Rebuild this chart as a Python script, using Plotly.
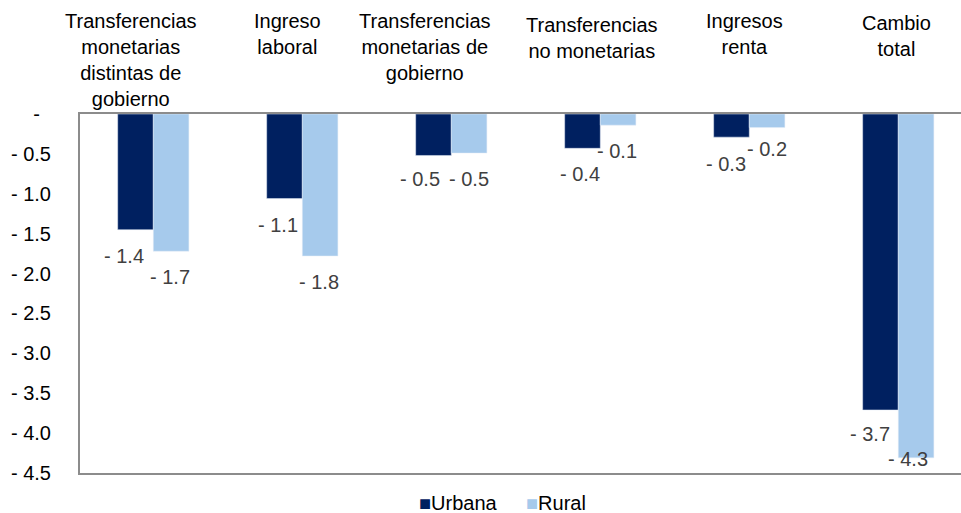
import plotly.graph_objects as go

categorias = [
    "Transferencias<br>monetarias<br>distintas de<br>gobierno",
    "Ingreso<br>laboral",
    "Transferencias<br>monetarias de<br>gobierno",
    "Transferencias<br>no monetarias",
    "Ingresos<br>renta",
    "Cambio<br>total",
]
urbana = [-1.45, -1.06, -0.52, -0.43, -0.29, -3.71]
rural = [-1.72, -1.78, -0.49, -0.14, -0.17, -4.31]

y_ticks = [0, -0.5, -1.0, -1.5, -2.0, -2.5, -3.0, -3.5, -4.0, -4.5]
y_ticktext = ["-\u00a0\u00a0"] + [f"- {abs(v):.1f}" for v in y_ticks[1:]]

# label placement tweaks (pixels), mimicking the original's placement
cat_dx = [-22, -15, -26, -8, -5, -2]
cat_dy = [0, 0, 0, 4, 0, 2]
urb_dx = [-11, -6, -13, -2, -5, -10]
urb_dy = [26, 26, 24, 26, 27, 24]
rur_dx = [-1, -1, 0, -1, 0, -8]
rur_dy = [26, 26, 26, 26, 21, 1]

FONT = "Liberation Sans, Arial, DejaVu Sans, sans-serif"
C_URB = "#002060"
C_RUR = "#A6CAEC"
C_TXT = "#404040"
FS = 20

x = list(range(len(categorias)))

fig = go.Figure()
fig.add_trace(go.Bar(x=x, y=urbana, name="Urbana", marker_color=C_URB, showlegend=False))
fig.add_trace(go.Bar(x=x, y=rural, name="Rural", marker_color=C_RUR, showlegend=False))

# data labels below bar ends
for i in x:
    fig.add_annotation(x=i - 0.12, y=urbana[i], text=f"- {abs(urbana[i]):.1f}", showarrow=False,
                       xshift=urb_dx[i], yshift=-urb_dy[i],
                       font=dict(size=FS, color=C_TXT, family=FONT))
    fig.add_annotation(x=i + 0.12, y=rural[i], text=f"- {abs(rural[i]):.1f}", showarrow=False,
                       xshift=rur_dx[i], yshift=-rur_dy[i],
                       font=dict(size=FS, color=C_TXT, family=FONT))

# category labels on top
for i, c in enumerate(categorias):
    fig.add_annotation(x=i, xref="x", y=1, yref="paper", yanchor="top",
                       xshift=cat_dx[i], yshift=106 - cat_dy[i],
                       text=c, showarrow=False, align="center",
                       font=dict(size=FS, color="#000000", family=FONT))

# legend drawn as text
for tr, lx in zip(fig.data, [0.3825, 0.504]):
    fig.add_annotation(x=lx, xref="paper", xanchor="left", y=-0.083, yref="paper",
                       yanchor="middle", showarrow=False,
                       text=f'<span style="color:{tr.marker.color}">■</span>{tr.name}',
                       font=dict(size=FS, color="#000000", family=FONT))

fig.update_layout(
    width=961, height=513,
    margin=dict(l=80, r=0, t=114, b=40),
    paper_bgcolor="white", plot_bgcolor="white",
    barmode="group", bargap=0.522, bargroupgap=0,
    font=dict(family=FONT, size=FS, color="#000000"),
    showlegend=False,
)
fig.update_xaxes(range=[-0.492, 5.421], showticklabels=False, showgrid=False,
                 zeroline=False, showline=True, linecolor="#8C8C8C", linewidth=2,
                 mirror=True, ticks="", automargin=False)
fig.update_yaxes(range=[-4.5, 0], tickvals=y_ticks, ticktext=y_ticktext, showgrid=False,
                 zeroline=False, showline=True, linecolor="#8C8C8C", linewidth=2,
                 mirror=True, ticks="", ticklabelstandoff=23, automargin=False,
                 tickfont=dict(size=FS, color="#000000", family=FONT))

fig.write_html("out.html", config={"displayModeBar": False},
               post_script="document.body.style.margin='0';")
